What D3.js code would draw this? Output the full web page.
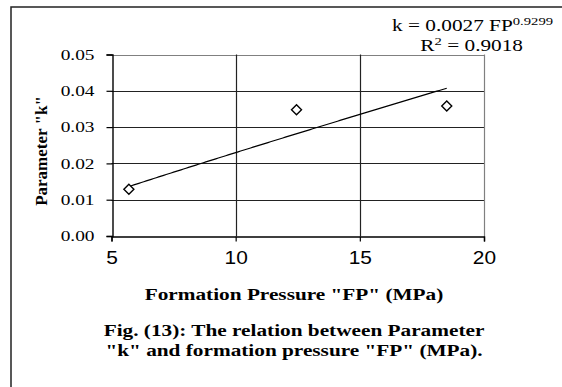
<!DOCTYPE html>
<html>
<head>
<meta charset="utf-8">
<script src="https://cdn.jsdelivr.net/npm/d3@7"></script>
<style>
  html, body { margin: 0; padding: 0; background: #fff; }
  svg { display: block; }
</style>
</head>
<body>
<svg id="chart" width="562" height="387"></svg>
<script>
// Measured points: formation pressure (MPa) vs parameter k
const formationPressure = [5.7, 12.45, 18.5];
const parameterK = [0.0129, 0.0348, 0.0358];

// Power-law fit k = a * FP^b
const fitA = 0.0027;
const fitB = 0.9299;
const fitR2 = 0.9018;

const xTicks = [5, 10, 15, 20];
const yTicks = [0.00, 0.01, 0.02, 0.03, 0.04, 0.05];

const svg = d3.select("#chart");
const W = 562, H = 387;
const serif = "'Liberation Serif', 'Times New Roman', serif";
const SX = 1.33; // horizontal widening of the serif lettering

// Outer frame
svg.append("rect")
  .attr("x", 11).attr("y", 7)
  .attr("width", W + 20).attr("height", H + 20)
  .attr("fill", "none").attr("stroke", "#222").attr("stroke-width", 1.5);

const plot = { left: 111.5, right: 484, top: 54.5, bottom: 236 };

const x = d3.scaleLinear().domain([5, 20]).range([plot.left, plot.right]);
const y = d3.scaleLinear().domain([0, 0.05]).range([plot.bottom, plot.top]);

// Gridlines
const grid = svg.append("g");
grid.selectAll("line.h")
  .data(yTicks.filter(d => d > 0))
  .join("line")
  .attr("x1", plot.left).attr("x2", plot.right)
  .attr("y1", d => Math.round(y(d)) + 0.5).attr("y2", d => Math.round(y(d)) + 0.5)
  .attr("stroke", d => d === 0.05 ? "#808080" : "#222")
  .attr("stroke-width", 1.2);
grid.selectAll("line.v")
  .data(xTicks.filter(d => d > 5))
  .join("line")
  .attr("y1", plot.top).attr("y2", plot.bottom)
  .attr("x1", d => Math.round(x(d)) + 0.5).attr("x2", d => Math.round(x(d)) + 0.5)
  .attr("stroke", d => d === 20 ? "#808080" : "#222")
  .attr("stroke-width", 1.2);

// Y axis
const yAxis = svg.append("g")
  .attr("transform", `translate(${Math.round(plot.left) + 0.5},0)`)
  .call(d3.axisLeft(y).tickValues(yTicks).tickFormat(d3.format(".2f")).tickSize(6));
yAxis.select(".domain").attr("stroke", "#000").attr("stroke-width", 1.4);
yAxis.selectAll(".tick line").attr("stroke", "#000").attr("stroke-width", 1.2);
yAxis.selectAll(".tick text")
  .attr("x", 0)
  .attr("transform", `translate(-18,0) scale(${SX * 0.97},1)`)
  .attr("font-family", serif)
  .attr("font-size", 15).attr("fill", "#000");

// X axis
const xAxis = svg.append("g")
  .attr("transform", `translate(0,${Math.round(plot.bottom) + 0.5})`)
  .call(d3.axisBottom(x).tickValues(xTicks).tickFormat(d3.format("d")).tickSize(5).tickPadding(9));
xAxis.select(".domain").attr("stroke", "#000").attr("stroke-width", 1.4);
xAxis.selectAll(".tick line").attr("stroke", "#000").attr("stroke-width", 1.2);
xAxis.selectAll(".tick text")
  .attr("transform", "scale(1.1,1)")
  .attr("font-family", "'Liberation Sans', Arial, sans-serif")
  .attr("font-size", 19).attr("fill", "#000");

// Trendline from the fitted power law over the data range
const fitX = d3.range(formationPressure[0], formationPressure[2] + 0.001, 0.1);
const line = d3.line().x(d => x(d)).y(d => y(fitA * Math.pow(d, fitB)));
svg.append("path")
  .datum(fitX)
  .attr("d", line)
  .attr("fill", "none").attr("stroke", "#000").attr("stroke-width", 1.2);

// Data markers: open diamonds
svg.selectAll("path.pt")
  .data(formationPressure.map((fp, i) => [fp, parameterK[i]]))
  .join("path")
  .attr("class", "pt")
  .attr("transform", d => `translate(${x(d[0])},${y(d[1])})`)
  .attr("d", "M0,-5L5,0L0,5L-5,0Z")
  .attr("fill", "#fff").attr("stroke", "#000").attr("stroke-width", 1.4);

// Widened serif text anchored at (px, py)
function wideText(px, py, anchor, size, bold) {
  return svg.append("g")
    .attr("transform", `translate(${px},${py}) scale(${SX},1)`)
    .append("text")
    .attr("text-anchor", anchor)
    .attr("font-family", serif)
    .attr("font-weight", bold ? "bold" : "normal")
    .attr("font-size", size)
    .attr("fill", "#000");
}

// Fit equation
const eq = wideText(553, 31, "end", 16, false);
eq.append("tspan").text(`k = ${fitA.toFixed(4)}  FP`);
eq.append("tspan").attr("font-size", 11).attr("dy", -6).text(fitB.toFixed(4));

const r2 = wideText(523, 51, "end", 16, false);
r2.append("tspan").text("R");
r2.append("tspan").attr("font-size", 11).attr("dy", -6).text("2");
r2.append("tspan").attr("dy", 6).text(` = ${fitR2.toFixed(4)}`);

// Axis titles
wideText(294, 300, "middle", 16, true).text('Formation Pressure "FP" (MPa)');

svg.append("text")
  .attr("transform", "translate(47,151) rotate(-90)")
  .attr("text-anchor", "middle")
  .attr("font-family", serif).attr("font-weight", "bold").attr("font-size", 17).attr("fill", "#000")
  .text('Parameter "k"');

// Figure caption
wideText(294, 336, "middle", 16, true).text("Fig. (13): The relation between Parameter");
wideText(294, 356, "middle", 16, true).text('"k" and formation  pressure "FP" (MPa).');
</script>
</body>
</html>
